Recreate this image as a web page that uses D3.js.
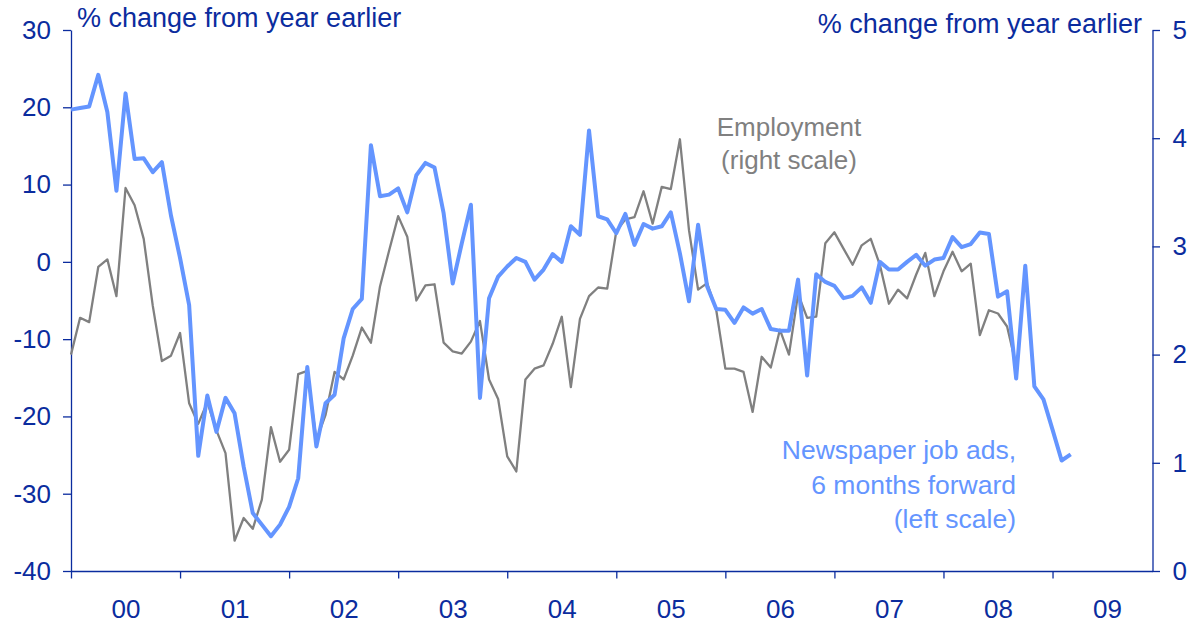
<!DOCTYPE html>
<html>
<head>
<meta charset="utf-8">
<script src="https://cdn.jsdelivr.net/npm/d3@7"></script>
<style>
  body { margin: 0; background: #fff; }
</style>
</head>
<body>
<div id="chart"></div>
<script>
///// DATA /////

// newspaper job ads, 6 months forward, % y/y (left scale), monthly from Jan 2000
var jobAds = [19.7, 19.9, 20.1, 24.2, 19.4, 9.2, 21.8, 13.3, 13.4, 11.6, 12.9, 6.0,
  0.5, -5.6, -25.1, -17.3, -22.0, -17.6, -19.6, -26.5, -32.5, -34.0, -35.5, -34.0,
  -31.7, -28.0, -13.6, -23.9, -18.3, -17.2, -9.9, -6.1, -4.8, 15.1, 8.5, 8.7,
  9.5, 6.4, 11.2, 12.8, 12.2, 6.3, -2.8, 2.4, 7.4, -17.6, -4.7, -1.9,
  -0.6, 0.5, 0.0, -2.3, -1.0, 1.0, 0.0, 4.6, 3.5, 17.0, 5.9, 5.5,
  3.7, 6.2, 2.2, 4.9, 4.3, 4.6, 6.4, 1.1, -5.1, 4.8, -3.2, -6.1,
  -6.2, -7.9, -5.9, -6.7, -6.1, -8.7, -8.9, -8.9, -2.3, -14.7, -1.6, -2.6,
  -3.1, -4.7, -4.4, -3.3, -5.3, 0.0, -1.0, -1.0, 0.0, 0.9, -0.5, 0.3,
  0.5, 3.2, 1.9, 2.3, 3.8, 3.6, -4.5, -3.8, -15.1, -0.5, -16.1, -17.8,
  -21.7, -25.7, -24.9];

// employment, % y/y (right scale), monthly from Jan 2000
var employment = [2.00, 2.34, 2.30, 2.81, 2.88, 2.54, 3.54, 3.38, 3.07, 2.45, 1.94, 1.99,
  2.20, 1.55, 1.36, 1.56, 1.30, 1.09, 0.28, 0.49, 0.39, 0.66, 1.33, 1.01,
  1.12, 1.82, 1.85, 1.21, 1.44, 1.84, 1.77, 1.99, 2.25, 2.11, 2.63, 2.96,
  3.28, 3.09, 2.50, 2.64, 2.65, 2.11, 2.03, 2.01, 2.12, 2.31, 1.77, 1.59,
  1.06, 0.92, 1.77, 1.87, 1.90, 2.10, 2.35, 1.70, 2.33, 2.54, 2.62, 2.61,
  3.14, 3.25, 3.27, 3.51, 3.21, 3.55, 3.53, 3.99, 3.15, 2.60, 2.66, 2.41,
  1.87, 1.87, 1.84, 1.47, 1.98, 1.88, 2.23, 2.00, 2.56, 2.34, 2.35, 3.03,
  3.13, 2.98, 2.83, 3.01, 3.07, 2.83, 2.47, 2.60, 2.52, 2.74, 2.94, 2.54,
  2.77, 2.95, 2.77, 2.84, 2.18, 2.41, 2.38, 2.26, 1.90];

var yearLabels = ["00", "01", "02", "03", "04", "05", "06", "07", "08", "09"];
var leftTicks = [30, 20, 10, 0, -10, -20, -30, -40];
var rightTicks = [0, 1, 2, 3, 4, 5];

///// SETUP /////

var width = 1199;
var height = 626;
var axisColor = "#0b2c9e";
var blue = "#6495ff";
var grey = "#808080";
var font = "'Liberation Sans', Arial, sans-serif";

var svg = d3.select("#chart").append("svg")
  .attr("width", width)
  .attr("height", height)
  .style("font-family", font);

svg.append("rect")
  .attr("width", "100%")
  .attr("height", "100%")
  .attr("fill", "#ffffff");

// 120 monthly slots, Jan 2000 .. Dec 2009
var x = d3.scaleLinear().domain([0, 119]).range([71, 1152.5]);
var yL = d3.scaleLinear().domain([-40, 30]).range([571, 30]);
var yR = d3.scaleLinear().domain([0, 5]).range([571, 30]);

///// AXES /////

function styleAxis(g) {
  g.selectAll(".domain").attr("stroke", axisColor).attr("stroke-width", 1.3);
  g.selectAll(".tick line").attr("stroke", axisColor).attr("stroke-width", 1.3);
  g.selectAll(".tick text")
    .attr("fill", axisColor)
    .style("font-size", "26px")
    .style("font-family", font);
}

// plain hyphen for negatives, like the original
var plain = function (d) { return String(d); };

// year ticks
svg.append("g")
  .attr("transform", "translate(0,571)")
  .call(d3.axisBottom(x)
    .tickValues(d3.range(0, 109, 12))
    .tickSize(7.5)
    .tickSizeOuter(0)
    .tickFormat(""))
  .call(styleAxis);

// year labels sit between ticks
svg.append("g")
  .attr("transform", "translate(0,571)")
  .call(d3.axisBottom(x)
    .tickValues(d3.range(6, 120, 12))
    .tickSize(0)
    .tickPadding(29)
    .tickFormat(function (d, i) { return yearLabels[i]; }))
  .call(function (g) { g.select(".domain").remove(); })
  .call(styleAxis);

svg.append("g")
  .attr("transform", "translate(71,0)")
  .call(d3.axisLeft(yL)
    .tickValues(leftTicks)
    .tickSize(8)
    .tickSizeOuter(0)
    .tickPadding(12)
    .tickFormat(plain))
  .call(styleAxis);

svg.append("g")
  .attr("transform", "translate(1152.5,0)")
  .call(d3.axisRight(yR)
    .tickValues(rightTicks)
    .tickSize(7.5)
    .tickSizeOuter(0)
    .tickPadding(12.5)
    .tickFormat(plain))
  .call(styleAxis);

///// LINES /////

var lineL = d3.line()
  .x(function (d, i) { return x(i); })
  .y(function (d) { return yL(d); });

var lineR = d3.line()
  .x(function (d, i) { return x(i); })
  .y(function (d) { return yR(d); });

svg.append("path")
  .datum(employment)
  .attr("d", lineR)
  .attr("fill", "none")
  .attr("stroke", grey)
  .attr("stroke-width", 2.3)
  .attr("stroke-linejoin", "round");

svg.append("path")
  .datum(jobAds)
  .attr("d", lineL)
  .attr("fill", "none")
  .attr("stroke", blue)
  .attr("stroke-width", 4)
  .attr("stroke-linejoin", "round");

///// TEXT /////

svg.append("text")
  .attr("x", 77)
  .attr("y", 27)
  .attr("fill", axisColor)
  .style("font-size", "27px")
  .text("% change from year earlier");

svg.append("text")
  .attr("x", 1142)
  .attr("y", 33)
  .attr("text-anchor", "end")
  .attr("fill", axisColor)
  .style("font-size", "27px")
  .text("% change from year earlier");

svg.append("text")
  .attr("x", 789)
  .attr("y", 136)
  .attr("text-anchor", "middle")
  .attr("fill", grey)
  .style("font-size", "26px")
  .selectAll("tspan")
  .data(["Employment", "(right scale)"])
  .enter().append("tspan")
  .attr("x", 789)
  .attr("dy", function (d, i) { return i ? 33 : 0; })
  .text(function (d) { return d; });

svg.append("text")
  .attr("x", 1016)
  .attr("y", 459)
  .attr("text-anchor", "end")
  .attr("fill", blue)
  .style("font-size", "26.5px")
  .selectAll("tspan")
  .data(["Newspaper job ads,", "6 months forward", "(left scale)"])
  .enter().append("tspan")
  .attr("x", 1016)
  .attr("dy", function (d, i) { return i ? 34.5 : 0; })
  .text(function (d) { return d; });
</script>
</body>
</html>
